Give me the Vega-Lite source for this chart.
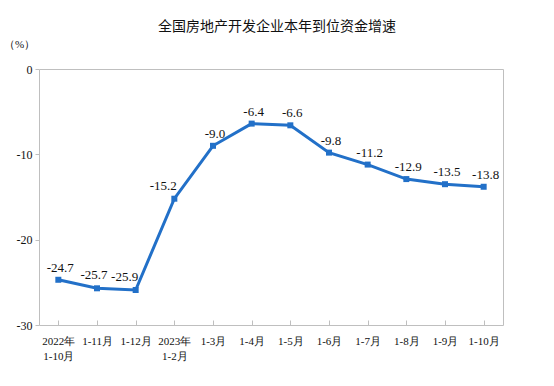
{
  "$schema": "https://vega.github.io/schema/vega-lite/v6.json",
  "width": 464,
  "height": 256,
  "autosize": "none",
  "padding": {"left": 39, "top": 69, "right": 51, "bottom": 61},
  "background": "white",
  "title": {
    "text": "全国房地产开发企业本年到位资金增速",
    "font": "Noto Sans CJK SC",
    "fontSize": 14,
    "fontWeight": "normal",
    "color": "#111111",
    "anchor": "middle",
    "dx": 6,
    "offset": 4
  },
  "config": {
    "locale": {"number": {"decimal": ".", "thousands": ",", "grouping": [3], "currency": ["", ""], "minus": "-"}},
    "view": {"stroke": "#bfbfbf", "strokeWidth": 1},
    "axis": {"grid": false, "labelFont": "Liberation Serif", "labelColor": "#111111", "titleFont": "Liberation Serif"}
  },
  "data": {
    "values": [
      {"period": "2022年|1-10月", "value": -24.7},
      {"period": "1-11月", "value": -25.7},
      {"period": "1-12月", "value": -25.9},
      {"period": "2023年|1-2月", "value": -15.2},
      {"period": "1-3月", "value": -9.0},
      {"period": "1-4月", "value": -6.4},
      {"period": "1-5月", "value": -6.6},
      {"period": "1-6月", "value": -9.8},
      {"period": "1-7月", "value": -11.2},
      {"period": "1-8月", "value": -12.9},
      {"period": "1-9月", "value": -13.5},
      {"period": "1-10月", "value": -13.8}
    ]
  },
  "encoding": {
    "x": {
      "field": "period",
      "type": "nominal",
      "sort": null,
      "scale": {"paddingInner": 0, "paddingOuter": 0},
      "axis": {
        "title": null,
        "labelAngle": 0,
        "labelFontSize": 11,
        "labelPadding": 15,
        "labelLineHeight": 15,
        "labelExpr": "split(datum.value, '|')",
        "bandPosition": 0,
        "tickSize": -5,
        "tickColor": "#bfbfbf",
        "domain": false,
        "labelBaseline": "top"
      }
    },
    "y": {
      "field": "value",
      "type": "quantitative",
      "scale": {"domain": [-30, 0], "nice": false},
      "axis": {
        "values": [-30, -20, -10, 0],
        "format": "d",
        "title": "（%）",
        "titleAngle": 0,
        "titleFontSize": 11,
        "titleFontWeight": "normal",
        "titleColor": "#111111",
        "titleX": -20,
        "titleY": -25,
        "titleAlign": "center",
        "titleBaseline": "middle",
        "labelFontSize": 12,
        "labelPadding": 3,
        "tickSize": 4,
        "tickColor": "#bfbfbf",
        "domain": false
      }
    }
  },
  "layer": [
    {
      "mark": {"type": "line", "color": "#2270c8", "strokeWidth": 3}
    },
    {
      "mark": {"type": "point", "shape": "square", "filled": true, "color": "#2270c8", "size": 36, "opacity": 1}
    },
    {
      "transform": [{"filter": "datum.value != -25.9 && datum.value != -15.2 && datum.value != -25.7"}],
      "mark": {"type": "text", "font": "Liberation Serif", "fontSize": 13, "color": "#111111", "dy": -12, "dx": 2, "baseline": "middle"},
      "encoding": {"text": {"field": "value", "type": "quantitative", "format": ".1f"}}
    },
    {
      "transform": [{"filter": "datum.value == -25.7"}],
      "mark": {"type": "text", "font": "Liberation Serif", "fontSize": 13, "color": "#111111", "dy": -13, "dx": -3, "baseline": "middle"},
      "encoding": {"text": {"field": "value", "type": "quantitative", "format": ".1f"}}
    },
    {
      "transform": [{"filter": "datum.value == -25.9 || datum.value == -15.2"}],
      "mark": {"type": "text", "font": "Liberation Serif", "fontSize": 13, "color": "#111111", "dy": -13, "dx": -11, "baseline": "middle"},
      "encoding": {"text": {"field": "value", "type": "quantitative", "format": ".1f"}}
    }
  ]
}
